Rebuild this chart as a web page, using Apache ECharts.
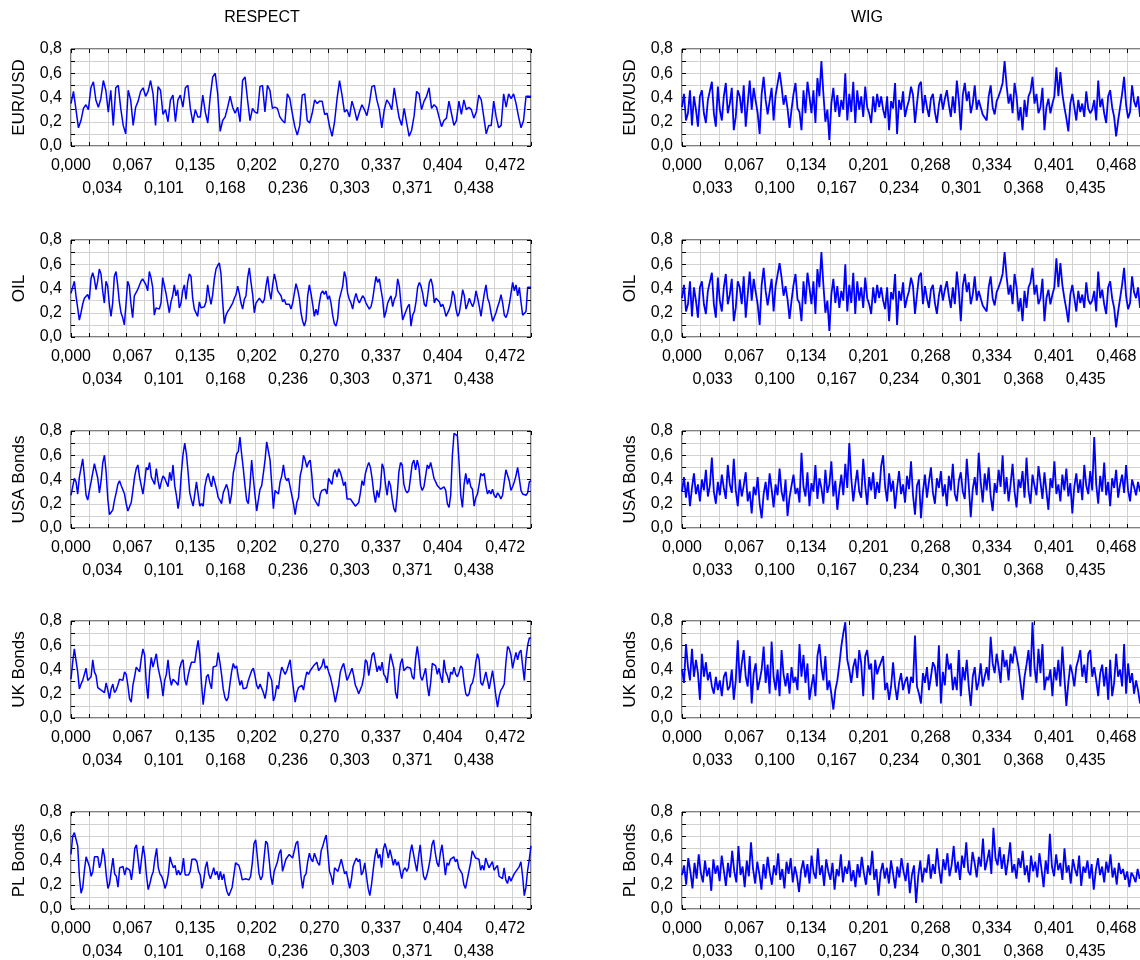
<!DOCTYPE html>
<html><head><meta charset="utf-8">
<script src="https://cdn.jsdelivr.net/npm/echarts@6/dist/echarts.min.js"></script>
<style>html,body{margin:0;padding:0;background:#fff}#c{width:1140px;height:960px}</style>
</head><body><div id="c"></div><script>
const panelTitles = ['RESPECT', 'WIG'];
const rowNames = ['EUR/USD', 'OIL', 'USA Bonds', 'UK Bonds', 'PL Bonds'];
const ticksRespect = ['0,000','0,034','0,067','0,101','0,135','0,168','0,202','0,236','0,270','0,303','0,337','0,371','0,404','0,438','0,472'];
const ticksWig = ['0,000','0,033','0,067','0,100','0,134','0,167','0,201','0,234','0,268','0,301','0,334','0,368','0,401','0,435','0,468'];

const respEUR = [.35,.45,.30,.15,.21,.31,.34,.30,.48,.53,.38,.32,.39,.54,.46,.28,.46,.17,.48,.50,.31,.17,.10,.46,.38,.17,.32,.37,.45,.48,.41,.45,.54,.43,.17,.49,.46,.26,.30,.20,.38,.42,.20,.38,.42,.32,.48,.50,.31,.19,.30,.24,.24,.42,.28,.19,.41,.57,.60,.43,.12,.21,.24,.32,.41,.32,.27,.32,.20,.54,.57,.38,.21,.31,.28,.27,.49,.50,.28,.50,.46,.31,.32,
.31,.24,.21,.19,.43,.39,.27,.16,.09,.17,.42,.43,.21,.19,.27,.38,.35,.37,.37,.26,.27,.16,.08,.20,.39,.54,.42,.28,.30,.24,.37,.30,.21,.28,.34,.30,.25,.35,.49,.50,.38,.30,.15,.30,.38,.35,.30,.48,.35,.23,.17,.31,.19,.08,.13,.25,.45,.43,.30,.37,.41,.48,.31,.34,.32,.24,.16,.21,.23,.37,.27,.17,.21,.37,.26,.38,.30,.32,.30,.23,.28,.42,.38,.24,.10,.17,.17,.37,.24,.15,.17,.43,.32,.43,.39,.43,.35,.24,.15,.21,.41,.41,.41];

const respOIL = [.36,.35,.46,.34,.24,.14,.20,.27,.32,.32,.35,.31,.48,.53,.48,.39,.46,.56,.52,.38,.28,.46,.42,.27,.17,.28,.50,.54,.43,.29,.20,.16,.10,.27,.46,.42,.27,.16,.34,.35,.39,.38,.46,.48,.49,.43,.38,.54,.49,.41,.18,.24,.25,.23,.28,.49,.48,.36,.28,.20,.29,.34,.43,.34,.39,.24,.28,.38,.43,.31,.45,.52,.50,.32,.23,.24,.17,.29,.24,.25,.25,.29,.43,.34,.27,.35,.48,.56,.59,.61,.52,.29,.11,.18,.21,.23,.24,.28,.32,.35,.42,.36,.28,.23,.31,.34,.49,.57,.45,.35,.20,.28,.29,.32,.32,.28,.31,.42,.50,.38,.31,.43,.52,.46,.38,.36,.34,.29,.31,.27,.28,.27,.23,.28,.36,.44,.39,.32,.20,.13,.09,.14,.34,.43,.36,.27,.17,.23,.18,.28,.36,.38,.35,.38,.31,.34,.28,.18,.11,.09,.15,.31,.32,.42,.54,.49,.36,.31,.28,.23,.31,.36,.31,.28,.31,.34,.32,.28,.28,.23,.25,.31,.41,.50,.45,.48,.39,.31,.16,.21,.28,.31,.34,.25,.31,.34,.48,.42,.27,.14,.18,.18,.25,.27,.09,.18,.21,.29,.41,.45,.42,.36,.27,.25,.34,.45,.48,.42,.28,.32,.31,.29,.25,.27,.23,.17,.16,.23,.28,.38,.34,.23,.17,.20,.29,.39,.34,.23,.27,.32,.28,.25,.29,.38,.32,.25,.17,.27,.36,.43,.32,.28,.20,.13,.14,.20,.25,.29,.35,.28,.18,.16,.20,.27,.36,.45,.38,.43,.34,.41,.29,.18,.17,.21,.41,.41,.41];

const respUSA = [.27,.34,.41,.38,.28,.42,.42,.57,.43,.27,.23,.31,.38,.39,.53,.52,.41,.29,.39,.54,.60,.46,.24,.11,.13,.15,.23,.29,.36,.39,.35,.34,.28,.20,.14,.13,.21,.31,.42,.49,.52,.42,.35,.28,.38,.50,.48,.54,.42,.39,.36,.49,.39,.32,.38,.43,.41,.42,.34,.46,.39,.52,.35,.27,.16,.25,.46,.61,.70,.61,.46,.29,.23,.18,.28,.38,.28,.18,.20,.18,.34,.41,.45,.39,.34,.43,.42,.32,.25,.23,.20,.29,.28,.36,.31,.20,.28,.45,.52,.61,.63,.75,.61,.49,.35,.23,.20,.35,.56,.41,.27,.14,.23,.32,.35,.45,.56,.71,.71,.56,.36,.16,.31,.32,.28,.38,.43,.52,.42,.39,.41,.34,.27,.20,.11,.21,.25,.43,.49,.60,.56,.50,.54,.56,.43,.25,.24,.20,.18,.28,.31,.32,.32,.28,.41,.42,.36,.45,.48,.42,.49,.46,.41,.35,.38,.24,.23,.24,.24,.20,.18,.17,.21,.29,.39,.35,.45,.50,.54,.50,.41,.29,.21,.31,.25,.34,.53,.49,.36,.27,.39,.35,.24,.16,.13,.27,.46,.54,.52,.36,.31,.29,.31,.42,.53,.56,.48,.56,.50,.35,.31,.34,.43,.52,.49,.54,.48,.41,.38,.35,.36,.32,.31,.34,.31,.20,.17,.27,.60,.78,.79,.76,.54,.27,.17,.36,.45,.36,.41,.34,.32,.18,.25,.28,.36,.45,.43,.45,.35,.28,.31,.28,.32,.27,.25,.29,.27,.24,.27,.38,.48,.49,.39,.31,.34,.38,.43,.50,.41,.31,.28,.28,.27,.29,.38,.39];

const respUK = [.32,.46,.57,.57,.38,.24,.28,.31,.32,.41,.31,.32,.34,.48,.38,.35,.25,.24,.23,.24,.21,.29,.23,.16,.24,.28,.21,.23,.27,.32,.31,.31,.38,.36,.27,.16,.13,.27,.34,.42,.41,.38,.49,.57,.52,.29,.16,.38,.50,.42,.41,.53,.42,.41,.29,.18,.31,.36,.48,.34,.27,.32,.31,.29,.27,.41,.46,.48,.32,.27,.35,.41,.46,.45,.46,.56,.64,.52,.29,.11,.23,.34,.36,.29,.24,.42,.41,.43,.54,.46,.36,.24,.17,.14,.17,.28,.38,.45,.41,.43,.34,.27,.31,.24,.23,.25,.31,.35,.39,.41,.35,.27,.24,.28,.29,.21,.16,.24,.38,.39,.31,.14,.18,.27,.24,.35,.42,.39,.36,.39,.38,.48,.35,.24,.13,.21,.25,.25,.27,.23,.32,.38,.36,.39,.38,.43,.42,.46,.39,.41,.43,.49,.41,.43,.38,.34,.28,.21,.13,.20,.27,.38,.42,.45,.38,.31,.34,.34,.41,.35,.27,.24,.20,.21,.27,.34,.48,.46,.35,.34,.52,.54,.53,.38,.43,.39,.46,.36,.34,.29,.42,.53,.54,.41,.21,.16,.34,.45,.49,.39,.38,.42,.41,.41,.34,.32,.49,.59,.49,.34,.31,.31,.41,.27,.18,.29,.45,.46,.43,.36,.41,.34,.29,.48,.38,.35,.29,.38,.36,.42,.36,.34,.38,.43,.41,.29,.20,.18,.20,.27,.29,.35,.46,.53,.48,.29,.27,.32,.38,.31,.24,.25,.39,.29,.18,.09,.18,.23,.25,.28,.46,.59,.57,.52,.41,.48,.54,.48,.54,.56,.43,.31,.49,.60,.66,.66];

const respPL = [.45,.60,.63,.63,.52,.27,.13,.18,.32,.43,.39,.35,.27,.31,.43,.42,.43,.34,.39,.50,.43,.28,.17,.21,.32,.42,.29,.27,.18,.34,.34,.35,.28,.34,.34,.32,.24,.35,.50,.53,.41,.29,.41,.52,.43,.27,.16,.21,.27,.31,.42,.50,.34,.29,.27,.23,.17,.21,.29,.43,.38,.34,.36,.28,.32,.28,.31,.42,.28,.29,.28,.31,.41,.41,.41,.39,.31,.28,.17,.23,.34,.39,.29,.25,.29,.34,.28,.31,.24,.31,.24,.29,.20,.14,.11,.11,.18,.28,.38,.39,.36,.31,.24,.24,.25,.24,.24,.27,.38,.54,.57,.43,.29,.24,.27,.42,.56,.54,.41,.27,.20,.31,.35,.39,.46,.49,.31,.36,.41,.41,.45,.46,.42,.41,.54,.56,.42,.27,.17,.27,.29,.39,.46,.41,.39,.46,.45,.38,.36,.48,.52,.57,.61,.46,.31,.27,.20,.34,.34,.31,.32,.41,.35,.29,.31,.24,.17,.24,.35,.39,.42,.39,.41,.28,.31,.38,.27,.17,.11,.20,.32,.43,.50,.42,.45,.34,.49,.54,.49,.42,.49,.43,.36,.41,.36,.39,.32,.25,.32,.34,.31,.34,.46,.53,.52,.38,.31,.43,.53,.38,.27,.24,.28,.34,.42,.53,.57,.46,.38,.35,.46,.53,.41,.28,.38,.36,.41,.41,.43,.39,.41,.34,.35,.29,.20,.17,.18,.31,.38,.48,.49,.42,.43,.41,.32,.36,.32,.42,.38,.34,.35,.39,.32,.31,.36,.27,.28,.25,.34,.24,.21,.27,.23,.23,.29,.31,.31,.35,.39,.27,.11,.18,.32,.41,.52];

const wigEUR = [.32,.43,.21,.27,.46,.17,.41,.30,.16,.41,.46,.27,.19,.38,.39,.53,.27,.16,.49,.30,.21,.41,.52,.27,.35,.48,.13,.24,.46,.41,.27,.50,.16,.35,.54,.30,.48,.37,.27,.10,.43,.57,.38,.26,.37,.48,.21,.42,.43,.61,.49,.34,.42,.31,.15,.30,.43,.52,.31,.28,.13,.46,.27,.53,.41,.27,.46,.19,.56,.41,.70,.43,.20,.30,.05,.35,.48,.28,.42,.24,.38,.30,.60,.21,.43,.28,.53,.19,.46,.30,.41,.24,.49,.32,.27,.19,.41,.28,.43,.32,
.41,.30,.23,.41,.13,.37,.31,.52,.10,.38,.30,.45,.24,.32,.38,.49,.42,.19,.35,.50,.53,.27,.42,.32,.24,.39,.43,.28,.19,.34,.43,.30,.39,.46,.34,.24,.41,.27,.54,.38,.13,.42,.52,.37,.45,.27,.35,.50,.30,.38,.32,.26,.27,.21,.41,.50,.32,.26,.37,.41,.46,.52,.70,.50,.35,.43,.27,.52,.41,.21,.32,.13,.38,.24,.41,.45,.57,.35,.43,.27,.32,.48,.13,.32,.39,.27,.35,.41,.65,.41,.61,.43,.32,.23,.12,.35,.43,.32,.21,.38,.28,.35,.24,.45,.31,.27,.30,.38,.21,.54,.32,.39,.27,.19,.41,.46,.32,.24,.08,.21,.32,.43,.57,.34,.23,.28,.50,.37,.32,.41,.24,.30,.36,.28];

const wigOIL = [.32,.43,.21,.27,.46,.17,.41,.30,.16,.41,.46,.27,.19,.38,.39,.53,.27,.16,.49,.30,.21,.41,.52,.27,.35,.48,.13,.24,.46,.41,.27,.50,.16,.35,.54,.30,.48,.37,.27,.10,.43,.57,.38,.26,.37,.48,.21,.42,.43,.61,.49,.34,.42,.31,.15,.30,.43,.52,.31,.28,.13,.46,.27,.53,.41,.27,.46,.19,.56,.41,.70,.43,.20,.30,.05,.35,.48,.28,.42,.24,.38,.30,.60,.21,.43,.28,.53,.19,.46,.30,.41,.24,.49,.32,.27,.19,.41,.28,.43,.32,
.41,.30,.23,.41,.13,.37,.31,.52,.10,.38,.30,.45,.24,.32,.38,.49,.42,.19,.35,.50,.53,.27,.42,.32,.24,.39,.43,.28,.19,.34,.43,.30,.39,.46,.34,.24,.41,.27,.54,.38,.13,.42,.52,.37,.45,.27,.35,.50,.30,.38,.32,.26,.27,.21,.41,.50,.32,.26,.37,.41,.46,.52,.70,.50,.35,.43,.27,.52,.41,.21,.32,.13,.38,.24,.41,.45,.57,.35,.43,.27,.32,.48,.13,.32,.39,.27,.35,.41,.65,.41,.61,.43,.32,.23,.12,.35,.43,.32,.21,.38,.28,.35,.24,.45,.31,.27,.30,.38,.21,.54,.32,.39,.27,.19,.41,.46,.32,.24,.08,.21,.32,.43,.57,.34,.23,.28,.50,.37,.32,.41,.24,.30,.36,.28];

const wigUSA = [.30,.42,.25,.38,.18,.33,.45,.28,.36,.22,.40,.31,.48,.26,.35,.58,.30,.20,.38,.27,
.44,.33,.24,.52,.36,.29,.57,.31,.18,.40,.26,.35,.46,.22,.30,.12,.34,.27,.42,.20,
.08,.28,.38,.23,.45,.32,.17,.36,.27,.49,.30,.22,.40,.10,.25,.35,.44,.28,.33,.21,
.62,.34,.26,.46,.18,.37,.30,.52,.24,.41,.33,.20,.48,.29,.36,.55,.26,.39,.15,.31,
.44,.27,.53,.33,.70,.41,.22,.36,.48,.30,.25,.57,.35,.19,.42,.31,.46,.24,.38,.29,
.51,.60,.34,.22,.45,.30,.39,.16,.33,.47,.28,.36,.21,.43,.32,.55,.27,.11,.35,.40,
.08,.30,.44,.25,.38,.50,.29,.20,.41,.33,.47,.26,.36,.18,.43,.31,.53,.28,.22,.39,
.46,.30,.24,.57,.35,.09,.32,.42,.27,.62,.38,.21,.45,.31,.50,.26,.14,.37,.29,.48,
.34,.60,.28,.42,.22,.36,.53,.30,.17,.40,.33,.47,.25,.58,.31,.20,.44,.35,.27,.51,
.38,.24,.46,.30,.15,.41,.33,.55,.28,.36,.22,.44,.31,.49,.26,.37,.12,.34,.45,.29,
.40,.23,.52,.35,.28,.47,.31,.75,.36,.20,.43,.30,.54,.27,.38,.18,.41,.33,.48,.25,
.36,.44,.29,.52,.31,.22,.40,.34,.27,.38,.30,.42,.33,.36];

const wigUK = [.40,.29,.61,.42,.31,.57,.34,.48,.37,.15,.53,.34,.46,.31,.38,.26,.20,.34,.23,.31,.18,.34,.38,.23,.26,.40,.15,.31,.64,.29,.45,.56,.34,.26,.51,.12,.37,.45,.23,.31,.40,.59,.29,.44,.20,.63,.34,.23,.40,.18,.56,.36,.26,.37,.20,.42,.29,.34,.23,.61,.34,.52,.29,.45,.15,.26,.36,.18,.51,.61,.42,.31,.51,.23,.31,.20,.07,.23,.31,.44,.59,.70,.79,.48,.40,.29,.42,.49,.33,.56,.45,.18,.51,.56,.40,.45,.15,.48,.36,.42,
.42,.51,.23,.29,.15,.26,.46,.26,.15,.29,.37,.23,.30,.34,.20,.34,.29,.68,.26,.20,.12,.37,.29,.42,.23,.34,.46,.42,.26,.60,.12,.38,.27,.53,.40,.45,.23,.34,.23,.56,.18,.42,.31,.48,.26,.10,.34,.42,.23,.30,.45,.26,.34,.42,.31,.67,.45,.37,.53,.42,.29,.56,.42,.48,.31,.53,.45,.59,.51,.42,.29,.15,.34,.44,.56,.34,.79,.42,.29,.57,.37,.61,.23,.34,.31,.40,.18,.42,.31,.48,.26,.59,.34,.10,.29,.44,.37,.26,.42,.48,.56,.34,.44,.29,.53,.56,.34,.42,.31,.18,.37,.44,.26,.42,.15,.48,.18,.29,.53,.34,.40,.26,.61,.20,.45,.29,.37,.20,.31,.23,.12,.20,.28,.15];

const wigPL = [.28,.36,.20,.42,.31,.17,.38,.25,.45,.30,.22,.40,.27,.34,.15,.41,.29,.36,.23,.44,
.32,.19,.38,.26,.48,.31,.22,.52,.28,.35,.18,.40,.27,.55,.33,.21,.39,.29,.16,.37,
.25,.43,.30,.20,.36,.28,.46,.24,.33,.17,.39,.29,.42,.22,.35,.27,.14,.32,.40,.26,
.37,.21,.44,.30,.25,.50,.28,.36,.19,.41,.31,.24,.38,.16,.33,.27,.45,.22,.35,.29,
.40,.23,.32,.18,.37,.26,.43,.30,.20,.36,.28,.48,.24,.33,.11,.30,.38,.25,.34,.21,
.40,.29,.17,.35,.26,.42,.31,.23,.38,.13,.28,.36,.05,.27,.40,.22,.34,.30,.45,.25,
.37,.29,.50,.33,.21,.41,.32,.46,.27,.36,.52,.30,.39,.24,.44,.34,.55,.31,.28,.47,
.38,.26,.43,.35,.58,.32,.40,.49,.29,.67,.42,.36,.51,.33,.45,.28,.40,.55,.30,.37,
.25,.42,.34,.48,.28,.36,.22,.44,.31,.39,.26,.46,.33,.18,.40,.29,.62,.35,.27,.45,
.32,.38,.24,.50,.30,.36,.21,.41,.33,.27,.44,.19,.35,.30,.40,.25,.37,.16,.32,.42,
.28,.35,.22,.39,.30,.45,.26,.34,.20,.38,.29,.33,.24,.31,.18,.30,.27,.22,.33,.25,
.29,.20,.26];

const columns = [[respEUR, respOIL, respUSA, respUK, respPL], [wigEUR, wigOIL, wigUSA, wigUK, wigPL]];
const columnTicks = [ticksRespect, ticksWig];

// layout
const XMAX = 0.5;
const rowTops = [49, 240, 431, 621, 812];
const plotH = 97;
const colLeft = [71, 682];
const colW = [460, 464];
const titleX = [262, 867];
const lineW = [1.5, 1.8];
const FONT = '"Liberation Sans", Arial, sans-serif';
const GRIDC = '#d2d2d2';

const grids = [], xAxes = [], yAxes = [], series = [];

function tickFmt(labels, vals) {
  return v => {
    let b = 0;
    for (let i = 1; i < vals.length; i++) if (Math.abs(vals[i] - v) < Math.abs(vals[b] - v)) b = i;
    return labels[b];
  };
}

for (let c = 0; c < 2; c++) {
  const labels = columnTicks[c];
  const vals = labels.map(s => parseFloat(s.replace(',', '.')));
  for (let r = 0; r < 5; r++) {
    const gi = grids.length;
    grids.push({left: colLeft[c], top: rowTops[r], width: colW[c], height: plotH,
      show: true, borderColor: '#000', borderWidth: 1, backgroundColor: 'transparent',
      containLabel: false, outerBoundsMode: 'none'});
    const xi = xAxes.length;
    xAxes.push({gridIndex: gi, type: 'value', min: 0, max: XMAX, interval: 0.02, position: 'bottom',
      axisLine: {show: false, onZero: false},
      axisTick: {show: true, inside: true, length: 4, lineStyle: {color: '#000'}},
      axisLabel: {show: false},
      splitLine: {show: true, lineStyle: {color: GRIDC, width: 1}}});
    xAxes.push({gridIndex: gi, type: 'value', min: 0, max: XMAX, interval: 0.02, position: 'top',
      axisLine: {show: false, onZero: false},
      axisTick: {show: true, inside: true, length: 4, lineStyle: {color: '#000'}},
      axisLabel: {show: false}, splitLine: {show: false}});
    [0, 1].forEach(par => {
      xAxes.push({gridIndex: gi, type: 'value', min: 0, max: XMAX, position: 'bottom',
        axisLine: {show: false, onZero: false}, axisTick: {show: false}, splitLine: {show: false},
        axisLabel: {show: true, customValues: vals.filter((v, i) => i % 2 === par),
          margin: par ? 35 : 12, fontSize: 16, color: '#000', fontFamily: FONT,
          formatter: tickFmt(labels, vals)}});
    });
    const yi = yAxes.length;
    yAxes.push({gridIndex: gi, type: 'value', min: 0, max: 0.8, interval: 0.1, position: 'left',
      axisLine: {show: false, onZero: false},
      axisTick: {show: true, inside: true, length: 4, lineStyle: {color: '#000'}},
      axisLabel: {show: true, margin: 9, fontSize: 16, color: '#000', fontFamily: FONT,
        formatter: v => { const k = Math.round(v * 10); return k % 2 === 0 ? (k / 10).toFixed(1).replace('.', ',') : ''; }},
      splitLine: {show: true, lineStyle: {color: GRIDC, width: 1}},
      name: rowNames[r], nameLocation: 'middle', nameGap: 43, nameRotate: 90,
      nameTextStyle: {fontSize: 17, color: '#000', fontFamily: FONT}});
    yAxes.push({gridIndex: gi, type: 'value', min: 0, max: 0.8, interval: 0.1, position: 'right',
      axisLine: {show: false, onZero: false},
      axisTick: {show: true, inside: true, length: 4, lineStyle: {color: '#000'}},
      axisLabel: {show: false}, splitLine: {show: false}});
    const d = columns[c][r];
    series.push({type: 'line', xAxisIndex: xi, yAxisIndex: yi, showSymbol: false, symbol: 'none',
      clip: true, animation: false,
      lineStyle: {color: '#0000ff', width: lineW[c]},
      data: d.map((v, i) => [i * XMAX / (d.length - 1), v])});
  }
}

const chart = echarts.init(document.getElementById('c'), null, {renderer: 'canvas'});
chart.setOption({
  backgroundColor: '#fff',
  animation: false,
  textStyle: {fontFamily: FONT},
  grid: grids, xAxis: xAxes, yAxis: yAxes, series: series,
  graphic: panelTitles.map((t, c) => ({type: 'text', x: titleX[c], y: 18,
    style: {text: t, fill: '#000', fontSize: 16, fontFamily: FONT, align: 'center', verticalAlign: 'middle'}}))
});
</script></body></html>
